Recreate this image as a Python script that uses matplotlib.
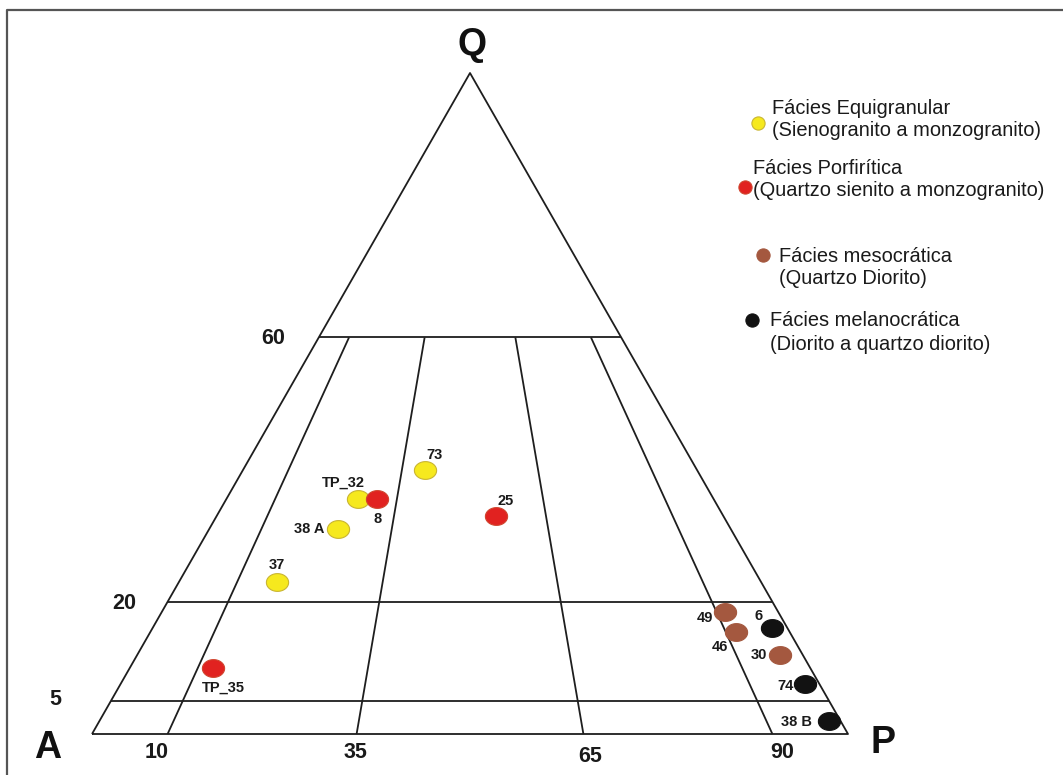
import matplotlib
matplotlib.use("Agg")
import matplotlib.pyplot as plt
import matplotlib.transforms as mtransforms
from matplotlib.path import Path
import numpy as np

# --- Sample data (modal Q-A-P, in percent) ---------------------------------
samples = ["73", "TP_32", "8", "38 A", "37", "25", "TP_35",
           "49", "46", "6", "30", "74", "38 B"]
q_vals = [40.0, 35.5, 35.5, 31.0, 23.0, 33.0, 10.0, 18.5, 15.5, 16.0, 12.0, 7.5, 2.0]
a_vals = [36.0, 47.0, 44.5, 52.0, 64.0, 30.0, 79.0, 7.0, 7.0, 2.0, 3.0, 2.0, 1.5]
p_vals = [24.0, 17.5, 20.0, 17.0, 13.0, 37.0, 11.0, 74.5, 77.5, 82.0, 85.0, 90.5, 96.5]
facies = ["equi", "equi", "porf", "equi", "equi", "porf", "porf",
          "meso", "meso", "mela", "meso", "mela", "mela"]

facies_order = ["equi", "porf", "meso", "mela"]
facies_title = ["Fácies Equigranular", "Fácies Porfirítica",
                "Fácies mesocrática", "Fácies melanocrática"]
facies_sub = ["(Sienogranito a monzogranito)", "(Quartzo sienito a monzogranito)",
              "(Quartzo Diorito)", "(Diorito a quartzo diorito)"]

# Streckeisen field boundaries
q_levels = [60, 20, 5]
p_ratios = [10, 35, 65, 90]

# --- Styles -----------------------------------------------------------------
face = {"equi": "#f6e91e", "porf": "#e12220", "meso": "#a4583f", "mela": "#121212"}
edge = {"equi": "#c9b532", "porf": "#d0452f", "meso": "#a4583f", "mela": "#121212"}

# label offsets in pixels (dx right, dy down) and horizontal alignment
label_style = {
    "73": (10, -15, "center"), "TP_32": (-15, -17, "center"), "8": (0, 20, "center"),
    "38 A": (-13, 0, "right"), "37": (0, -17, "center"), "25": (9, -15, "center"),
    "TP_35": (10, 20, "center"), "49": (-12, 6, "right"), "46": (-17, 15, "center"),
    "6": (-14, -12, "center"), "30": (-13, 0, "right"), "74": (-11, 2, "right"),
    "38 B": (-17, 1, "right"),
}

plt.rcParams["font.family"] = ["Liberation Sans", "DejaVu Sans"]

W, H = 1063, 775
fig = plt.figure(figsize=(W / 100, H / 100), dpi=100)
fig.patch.set_facecolor("white")
ax = fig.add_axes([0, 0, 1, 1])
ax.set_axis_off()

# ternary frame: A=(0,0), P=(1,0), Q=(0.5,1); y is the Q fraction
X0, XS, Y0, YS = 92.0, 756.0, 734.0, 661.0
ax.set_xlim(-X0 / XS, (W - X0) / XS)
ax.set_ylim((Y0 - H) / YS, Y0 / YS)


def tern(q, a, p):
    q = np.asarray(q, float); a = np.asarray(a, float); p = np.asarray(p, float)
    s = q + a + p
    q, p = q / s, p / s
    return p + q / 2.0, q


# pixel transform (origin top-left) for page-level items
px = mtransforms.Affine2D().scale(1 / W, -1 / H).translate(0, 1) + fig.transFigure

# outer frame (top and left edges)
fig.add_artist(plt.Line2D([7, 7, W], [H, 10, 10], transform=px, color="#555555", lw=1.6))

line_kw = dict(color="#1e1e1e", lw=1.3, solid_capstyle="butt", zorder=2)

# triangle
tx, ty = tern([0, 0, 100, 0], [100, 0, 0, 100], [0, 100, 0, 0])
ax.plot(tx, ty, **line_kw)

# horizontal Q boundaries
for q in q_levels:
    f = q / 100.0
    ax.plot([f / 2, 1 - f / 2], [f, f], **line_kw)

# radial boundaries from the AP edge up to Q = 60
for r in p_ratios:
    x0, y0 = tern(0, 100 - r, r)
    qtop = q_levels[0]
    x1, y1 = tern(qtop, (100 - qtop) * (100 - r) / 100, (100 - qtop) * r / 100)
    ax.plot([x0, x1], [y0, y1], **line_kw)

# boundary value labels
bold = dict(fontweight="bold", color="#1a1a1a")
q_lab_off = {60: (-46, 1), 20: (-43, 2), 5: (-56, -1)}
for q in q_levels:
    f = q / 100.0
    dx, dy = q_lab_off[q]
    ax.annotate(str(q), (f / 2, f), xytext=(dx * 0.72, -dy * 0.72),
                textcoords="offset points", ha="center", va="center", fontsize=15.5, **bold)
p_lab_off = {10: (-11, 19), 35: (-1, 18), 65: (7, 22), 90: (10, 19)}
for r in p_ratios:
    dx, dy = p_lab_off[r]
    ax.annotate(str(r), (r / 100.0, 0), xytext=(dx * 0.72, -dy * 0.72),
                textcoords="offset points", ha="center", va="center", fontsize=15.5, **bold)

# vertex labels
for txt, (x, y) in {"Q": (472, 45), "A": (48, 748), "P": (883, 743)}.items():
    fig.text(x, y, txt, transform=px, ha="center", va="center",
             fontsize=27, fontweight="black", color="#111111")

# slightly flattened disc marker
t = np.linspace(0, 2 * np.pi, 64)
disc = Path(np.column_stack([0.5 * np.cos(t), 0.40 * np.sin(t)]), closed=True)

sx, sy = tern(q_vals, a_vals, p_vals)
for key in facies_order:
    idx = [i for i, f in enumerate(facies) if f == key]
    ax.plot(sx[idx], sy[idx], linestyle="none", marker=disc, markersize=16,
            markerfacecolor=face[key], markeredgecolor=edge[key], markeredgewidth=0.8,
            zorder=4)

for i, name in enumerate(samples):
    dx, dy, ha = label_style[name]
    ax.annotate(name, (sx[i], sy[i]), xytext=(dx * 0.72, -dy * 0.72),
                textcoords="offset points", ha=ha, va="center",
                fontsize=10.5, fontweight="bold", color="#1a1a1a", zorder=5)

# legend
leg_marker = [(758, 123), (745, 187), (763, 255), (752, 320)]
leg_text_x = [772, 753, 779, 770]
leg_lines_y = [(108, 131), (168, 190), (257, 279), (321, 345)]
for k, key in enumerate(facies_order):
    mx, my = leg_marker[k]
    fig.add_artist(plt.Line2D([mx], [my], transform=px, marker="o", markersize=9.5,
                              markerfacecolor=face[key], markeredgecolor=edge[key],
                              markeredgewidth=0.8, linestyle="none"))
    y1, y2 = leg_lines_y[k]
    fig.text(leg_text_x[k], y1, facies_title[k], transform=px, ha="left", va="center",
             fontsize=14.4, color="#1a1a1a")
    fig.text(leg_text_x[k], y2, facies_sub[k], transform=px, ha="left", va="center",
             fontsize=14.4, color="#1a1a1a")

fig.savefig("out.png", dpi=100, facecolor="white")
